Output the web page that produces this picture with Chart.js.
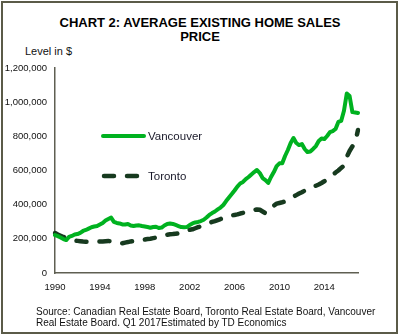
<!DOCTYPE html>
<html>
<head>
<meta charset="utf-8">
<script src="https://cdn.jsdelivr.net/npm/chart.js@4.4.1/dist/chart.umd.min.js"></script>
<style>
  html, body { margin: 0; padding: 0; background: #fff; }
  body { width: 400px; height: 335px; position: relative; overflow: hidden;
         font-family: Arial, "Liberation Sans", sans-serif; }
  #frame { position: absolute; left: 1px; top: 1px; width: 393px; height: 329px;
           border: 2px solid #5b5b48; }
  #title { position: absolute; left: 0; top: 16px; width: 400px; text-align: center;
           font-size: 13px; font-weight: bold; line-height: 14px; color: #000; }
  #unit { position: absolute; left: 25px; top: 45px; font-size: 11px; line-height: 12px; color: #111; }
  #source { position: absolute; left: 36px; top: 307px; font-size: 10px; line-height: 10.5px; color: #111; }
  #chart { position: absolute; left: 0; top: 0; }
</style>
</head>
<body>
<div id="frame"></div>
<div id="title">CHART 2: AVERAGE EXISTING HOME SALES<br>PRICE</div>
<div id="unit">Level in $</div>
<canvas id="chart" width="400" height="335"></canvas>
<div id="source">Source: Canadian Real Estate Board, Toronto Real Estate Board, Vancouver<br>Real Estate Board. Q1 2017Estimated by TD Economics</div>
<script>
// quarterly, 1990Q1 .. 2017Q1
const firstYear = 1990;
const lastYear = 2017;
const quarters = [];
for (let y = firstYear; y <= lastYear; y++) {
    for (let q = 1; q <= 4; q++) {
        if (y === lastYear && q > 1) break;
        quarters.push(y + 'Q' + q);
    }
}

const seriesNames = ['Vancouver', 'Toronto'];

const vancouver = [
    222000, 216000, 208000, 199000, 193000, 211000, 217000, 225000,
    228000, 235000, 246000, 252000, 260000, 268000, 272000, 275000,
    284000, 293000, 307000, 316000, 324000, 299000, 293000, 290000,
    284000, 284000, 287000, 278000, 275000, 278000, 279000, 275000,
    272000, 269000, 265000, 269000, 271000, 263000, 266000, 278000,
    287000, 290000, 287000, 281000, 275000, 269000, 268000, 269000,
    281000, 290000, 296000, 299000, 304000, 312000, 325000, 340000,
    351000, 360000, 372000, 383000, 398000, 421000, 442000, 462000,
    483000, 506000, 524000, 533000, 550000, 562000, 577000, 591000,
    603000, 585000, 556000, 544000, 527000, 562000, 591000, 626000,
    642000, 642000, 685000, 720000, 761000, 790000, 761000, 749000,
    755000, 726000, 708000, 711000, 726000, 743000, 773000, 787000,
    784000, 802000, 825000, 831000, 843000, 884000, 890000, 950000,
    1051000, 1036000, 942000, 940000, 937000
];

const toronto = [
    234000, 225000, 218000, 211000, 206000, 199000, 194000, 190000,
    188000, 186000, 184000, 183000, 183000, 183000, 183000, 183000,
    184000, 185000, 186000, 187000, 186000, 183000, 180000, 177000,
    174000, 178000, 181000, 185000, 187000, 190000, 193000, 194000,
    196000, 199000, 201000, 204000, 207000, 211000, 215000, 219000,
    224000, 227000, 228000, 230000, 232000, 237000, 242000, 248000,
    253000, 256000, 262000, 268000, 274000, 280000, 287000, 293000,
    299000, 304000, 310000, 316000, 321000, 327000, 332000, 337000,
    340000, 343000, 348000, 352000, 356000, 360000, 364000, 368000,
    372000, 370000, 360000, 350000, 357000, 378000, 394000, 406000,
    410000, 414000, 419000, 428000, 438000, 447000, 456000, 465000,
    473000, 482000, 490000, 497000, 504000, 511000, 518000, 527000,
    537000, 547000, 560000, 574000, 588000, 600000, 615000, 628000,
    679000, 714000, 741000, 764000, 837000
];

const yTicks = [0, 200000, 400000, 600000, 800000, 1000000, 1200000];
const xTickEvery = 16; // one label every 4 years

const FONT = 'Arial, "Liberation Sans", sans-serif';

// legend drawn inside the plot, like the original
const insideLegend = {
    id: 'insideLegend',
    afterDatasetsDraw(chart) {
        const ctx = chart.ctx;
        const rows = [
            { ds: chart.data.datasets[0], x0: 103, x1: 144, y: 136 },
            { ds: chart.data.datasets[1], x0: 104, x1: 138, y: 176 }
        ];
        ctx.save();
        rows.forEach(r => {
            ctx.beginPath();
            ctx.strokeStyle = r.ds.borderColor;
            ctx.lineWidth = r.ds.borderWidth;
            ctx.lineCap = r.ds.borderCapStyle || 'butt';
            ctx.setLineDash(r.ds.borderDash || []);
            ctx.moveTo(r.x0, r.y);
            ctx.lineTo(r.x1, r.y);
            ctx.stroke();
            ctx.setLineDash([]);
            ctx.fillStyle = '#1a1a2a';
            ctx.font = '11.5px ' + FONT;
            ctx.textBaseline = 'middle';
            ctx.fillText(r.ds.label, 148, r.y + 1);
        });
        ctx.restore();
    }
};

new Chart(document.getElementById('chart').getContext('2d'), {
    type: 'line',
    data: {
        labels: quarters,
        datasets: [
            {
                label: seriesNames[0],
                data: vancouver,
                borderColor: '#00b220',
                borderWidth: 4,
                borderJoinStyle: 'round',
                borderCapStyle: 'round',
                pointRadius: 0,
                tension: 0
            },
            {
                label: seriesNames[1],
                data: toronto,
                borderColor: '#173a1f',
                borderWidth: 4.5,
                borderDash: [10, 13],
                borderCapStyle: 'round',
                borderJoinStyle: 'round',
                pointRadius: 0,
                tension: 0
            }
        ]
    },
    options: {
        responsive: false,
        animation: false,
        devicePixelRatio: 1,
        layout: { padding: { top: 68, right: 42, bottom: 42, left: 0 } },
        plugins: {
            legend: { display: false },
            title: { display: false },
            tooltip: { enabled: false }
        },
        scales: {
            x: {
                grid: { display: false, drawTicks: false },
                border: { display: true, color: '#5f5f52', width: 1.5 },
                afterFit: s => { s.height = 20; },
                ticks: {
                    autoSkip: false,
                    maxRotation: 0,
                    minRotation: 0,
                    padding: 9,
                    color: '#111',
                    font: { family: FONT, size: 9.5 },
                    callback: function (value, index) {
                        return index % xTickEvery === 0 ? this.getLabelForValue(value).slice(0, 4) : null;
                    }
                }
            },
            y: {
                min: yTicks[0],
                max: yTicks[yTicks.length - 1],
                grid: { display: false, drawTicks: false },
                border: { display: true, color: '#5f5f52', width: 1.5 },
                afterFit: s => { s.width = 55; },
                afterBuildTicks: s => { s.ticks = yTicks.map(v => ({ value: v })); },
                ticks: {
                    padding: 8,
                    color: '#111',
                    font: { family: FONT, size: 9.5 },
                    callback: v => v.toLocaleString('en-US')
                }
            }
        }
    },
    plugins: [insideLegend]
});
</script>
</body>
</html>
